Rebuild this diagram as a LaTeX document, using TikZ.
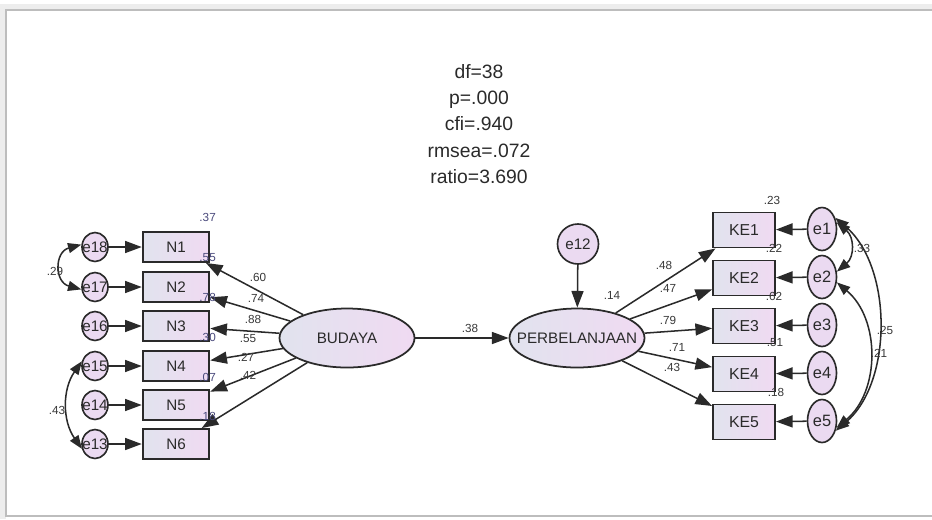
\documentclass[tikz,border=0pt]{standalone}
\usepackage{fontspec}
\setmainfont{Liberation Sans}
\usetikzlibrary{arrows.meta,shapes.geometric}

\definecolor{ink}{HTML}{2A2A2A}
\definecolor{numink}{HTML}{383838}
\definecolor{rsqink}{HTML}{4A4A7C}
\definecolor{boxleft}{HTML}{E1E3EE}
\definecolor{boxright}{HTML}{F0DAF2}
\definecolor{errfill}{HTML}{EBDAF1}
\definecolor{framegray}{HTML}{BDBDBD}

\tikzset{
	indicator/.style={draw=ink, line width=1.6pt, left color=boxleft, right color=boxright, inner sep=0pt, text=ink},
	nbox/.style={indicator, minimum width=2.0cm, minimum height=0.9cm, font=\fontsize{13}{13}\selectfont},
	kebox/.style={indicator, minimum width=1.86cm, minimum height=1.05cm, font=\fontsize{13.5}{13.5}\selectfont},
	latent/.style={ellipse, draw=ink, line width=1.5pt, left color=boxleft, right color=boxright, inner sep=0pt, minimum width=4.05cm, minimum height=1.77cm, label={[font=\fontsize{13}{13}\selectfont, text=ink]center:#1}},
	errleft/.style={ellipse, draw=ink, line width=1.4pt, fill=errfill, inner sep=0pt, minimum width=0.78cm, minimum height=0.87cm, label={[font=\fontsize{13}{13}\selectfont, text=ink]center:#1}},
	errright/.style={ellipse, draw=ink, line width=1.4pt, fill=errfill, inner sep=0pt, minimum width=0.87cm, minimum height=1.29cm, label={[font=\fontsize{14}{14}\selectfont, text=ink]center:#1}},
	errstruct/.style={ellipse, draw=ink, line width=1.4pt, fill=errfill, inner sep=0pt, minimum width=1.23cm, minimum height=1.2cm, label={[font=\fontsize{13}{13}\selectfont, text=ink]center:#1}},
	effect/.style={draw=ink, line width=1.3pt, -{Triangle[length=5mm,width=3.6mm]}},
	cov/.style={draw=ink, line width=1.3pt, {Triangle[length=4mm,width=3mm]}-{Triangle[length=4mm,width=3mm]}},
	coef/.style={font=\fontsize{10}{10}\selectfont, text=numink, inner sep=0pt},
	rsq/.style={coef, text=rsqink},
	fitstats/.style={align=center, font=\fontsize{16.5}{22.4}\selectfont, text=ink, inner sep=0pt}
}

\begin{document}
\begin{tikzpicture}[x=0.03cm, y=-0.03cm]
		\useasboundingbox (0,0) rectangle (932,519);
		
		%frame
		\draw[black!7, line width=5pt] (932,7) -- (3,7) -- (3,519);
		\draw[framegray, line width=1.2pt] (932,10) -- (6,10) -- (6,516) -- (932,516);
		
		%fit statistics
		\node[fitstats] (fit) at (479,124) {df=38\\p=.000\\cfi=.940\\rmsea=.072\\ratio=3.690};
		
		%latent variables
		\node[latent=BUDAYA] (budaya) at (347,338) {};
		\node[latent=PERBELANJAAN] (belanja) at (577,338) {};
		\node[errstruct=e12] (e12) at (578,244) {};
		
		%indicators budaya
		\node[nbox] (n1) at (176,247) {N1};
		\node[nbox] (n2) at (176,287) {N2};
		\node[nbox] (n3) at (176,326) {N3};
		\node[nbox] (n4) at (176,366) {N4};
		\node[nbox] (n5) at (176,405) {N5};
		\node[nbox] (n6) at (176,444) {N6};
		
		%errors budaya
		\node[errleft=e18] (e18) at (95,247) {};
		\node[errleft=e17] (e17) at (95,287) {};
		\node[errleft=e16] (e16) at (95,326) {};
		\node[errleft=e15] (e15) at (95,366) {};
		\node[errleft=e14] (e14) at (95,405) {};
		\node[errleft=e13] (e13) at (95,444) {};
		
		%indicators perbelanjaan
		\node[kebox] (ke1) at (744,230) {KE1};
		\node[kebox] (ke2) at (744,278) {KE2};
		\node[kebox] (ke3) at (744,326) {KE3};
		\node[kebox] (ke4) at (744,374) {KE4};
		\node[kebox] (ke5) at (744,422) {KE5};
		
		%errors perbelanjaan
		\node[errright=e1] (e1) at (822,229) {};
		\node[errright=e2] (e2) at (822,277) {};
		\node[errright=e3] (e3) at (822,325) {};
		\node[errright=e4] (e4) at (822,373) {};
		\node[errright=e5] (e5) at (822,421) {};
		
		%structural paths
		\draw[effect] (budaya) -- (belanja);
		\draw[effect] (e12) -- (belanja);
		
		%loadings budaya
		\draw[effect] (budaya) -- (n1);
		\draw[effect] (budaya) -- (n2);
		\draw[effect] (budaya) -- (n3);
		\draw[effect] (budaya) -- (n4);
		\draw[effect] (budaya) -- (n5);
		\draw[effect] (budaya) -- (n6);
		
		\draw[effect] (e18) -- (n1);
		\draw[effect] (e17) -- (n2);
		\draw[effect] (e16) -- (n3);
		\draw[effect] (e15) -- (n4);
		\draw[effect] (e14) -- (n5);
		\draw[effect] (e13) -- (n6);
		
		%loadings perbelanjaan
		\draw[effect] (belanja) -- (ke1);
		\draw[effect] (belanja) -- (ke2);
		\draw[effect] (belanja) -- (ke3);
		\draw[effect] (belanja) -- (ke4);
		\draw[effect] (belanja) -- (ke5);
		
		\draw[effect] (e1) -- (ke1);
		\draw[effect] (e2) -- (ke2);
		\draw[effect] (e3) -- (ke3);
		\draw[effect] (e4) -- (ke4);
		\draw[effect] (e5) -- (ke5);
		
		%covariances
		\draw[cov] (e18.170) to[out=195, in=165, looseness=1.6] (e17.190);
		\draw[cov] (e15.160) to[out=235, in=125] (e13.200);
		\draw[cov] (e1.25) to[out=-40, in=40, looseness=1.2] (e2.20);
		\draw[cov] (e1.40) to[out=-40, in=40, looseness=0.9] (e5.-35);
		\draw[cov] (e2.-20) to[out=-40, in=40] (e5.-25);
		
		%estimates
		\node[coef] (c38) at (470,328) {.38};
		\node[coef] (r14) at (612,295) {.14};
		
		\node[coef] (c60) at (258,277) {.60};
		\node[coef] (c74) at (256,298) {.74};
		\node[coef] (c88) at (253,319) {.88};
		\node[coef] (c55) at (248,339) {.55};
		\node[coef] (c27) at (246,357) {.27};
		\node[coef] (c42) at (248,375) {.42};
		
		\node[rsq, anchor=east] (rn1) at (216,217) {.37};
		\node[rsq, anchor=east] (rn2) at (216,258) {.55};
		\node[rsq, anchor=east] (rn3) at (216,297) {.78};
		\node[rsq, anchor=east] (rn4) at (216,337) {.30};
		\node[rsq, anchor=east] (rn5) at (216,377) {.07};
		\node[rsq, anchor=east] (rn6) at (216,416) {.18};
		
		\node[coef] (c48) at (664,265) {.48};
		\node[coef] (c47) at (668,288) {.47};
		\node[coef] (c79) at (668,320) {.79};
		\node[coef] (c71) at (677,347) {.71};
		\node[coef] (c43b) at (672,367) {.43};
		
		\node[coef] (rk1) at (772,200) {.23};
		\node[coef] (rk2) at (774,248) {.22};
		\node[coef] (rk3) at (774,296) {.62};
		\node[coef] (rk4) at (775,343) {.51};
		\node[coef] (rk5) at (776,392) {.18};
		
		\node[coef] (v29) at (55,271) {.29};
		\node[coef] (v43) at (57,410) {.43};
		\node[coef] (v33) at (862,248) {.33};
		\node[coef] (v25) at (885,330) {.25};
		\node[coef] (v21) at (879,353) {.21};
		
\end{tikzpicture}
\end{document}
